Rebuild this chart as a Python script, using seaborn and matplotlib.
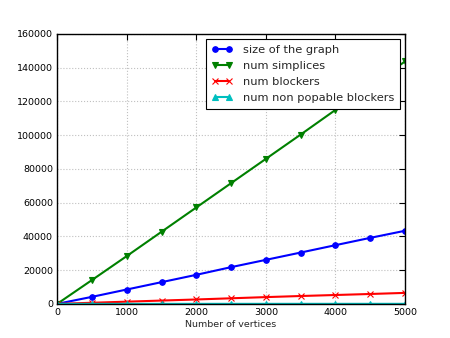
import matplotlib
matplotlib.use("Agg")
import matplotlib.pyplot as plt
import seaborn as sns
import pandas as pd

vertices = [0, 500, 1000, 1500, 2000, 2500, 3000, 3500, 4000, 4500, 5000]
graph_size = [0, 4150, 8500, 12850, 17200, 21750, 26070, 30400, 34770, 39100, 43300]
num_simplices = [0, 14100, 28300, 42700, 57100, 71500, 85900, 100300, 114900, 129200, 143600]
num_blockers = [0, 650, 1300, 1950, 2600, 3300, 4000, 4650, 5250, 5850, 6500]
num_non_popable = [0, 2, 4, 6, 8, 10, 12, 14, 16, 18, 20]

series_names = ["size of the graph", "num simplices", "num blockers",
                "num non popable blockers"]
series_values = [graph_size, num_simplices, num_blockers, num_non_popable]
colors = ["#0000ff", "#008000", "#ff0000", "#00bfbf"]
markers = ["o", "v", "x", "^"]

sns.set_style("white")
plt.rcParams["font.family"] = ["DejaVu Sans"]

fig = plt.figure(figsize=(4.5, 3.38), dpi=100)
ax = fig.add_axes([0.127, 0.101, 0.773, 0.799])

for name, vals, col, mk in zip(series_names, series_values, colors, markers):
    df = pd.DataFrame({"x": vertices, "y": vals})
    sns.lineplot(data=df, x="x", y="y", ax=ax, color=col, marker=mk,
                 markersize=4, markeredgewidth=0.8, markeredgecolor=col,
                 linewidth=1.5, label=name)

ax.set_xlim(0, 5000)
ax.set_ylim(0, 160000)
ax.set_xticks(range(0, 5001, 1000))
ax.set_yticks(range(0, 160001, 20000))
ax.set_xlabel("Number of vertices", fontsize=6.8, labelpad=2)
ax.set_ylabel("")
ax.grid(True, color="#c0c0c0", linestyle=":", linewidth=0.8)
ax.tick_params(direction="in", length=4, width=0.8, labelsize=6.8,
               top=True, right=True, pad=3, colors="black")
for s in ax.spines.values():
    s.set_color("black")
    s.set_linewidth(1.0)

leg = ax.legend(loc="upper right", fontsize=8.2, numpoints=2, fancybox=False,
                frameon=True, borderaxespad=0.45, handlelength=1.8,
                labelspacing=0.55, borderpad=0.5, handletextpad=0.9)
leg.get_frame().set_edgecolor("black")
leg.get_frame().set_linewidth(0.8)
leg.get_frame().set_alpha(1.0)

fig.savefig("out.png", dpi=100)
